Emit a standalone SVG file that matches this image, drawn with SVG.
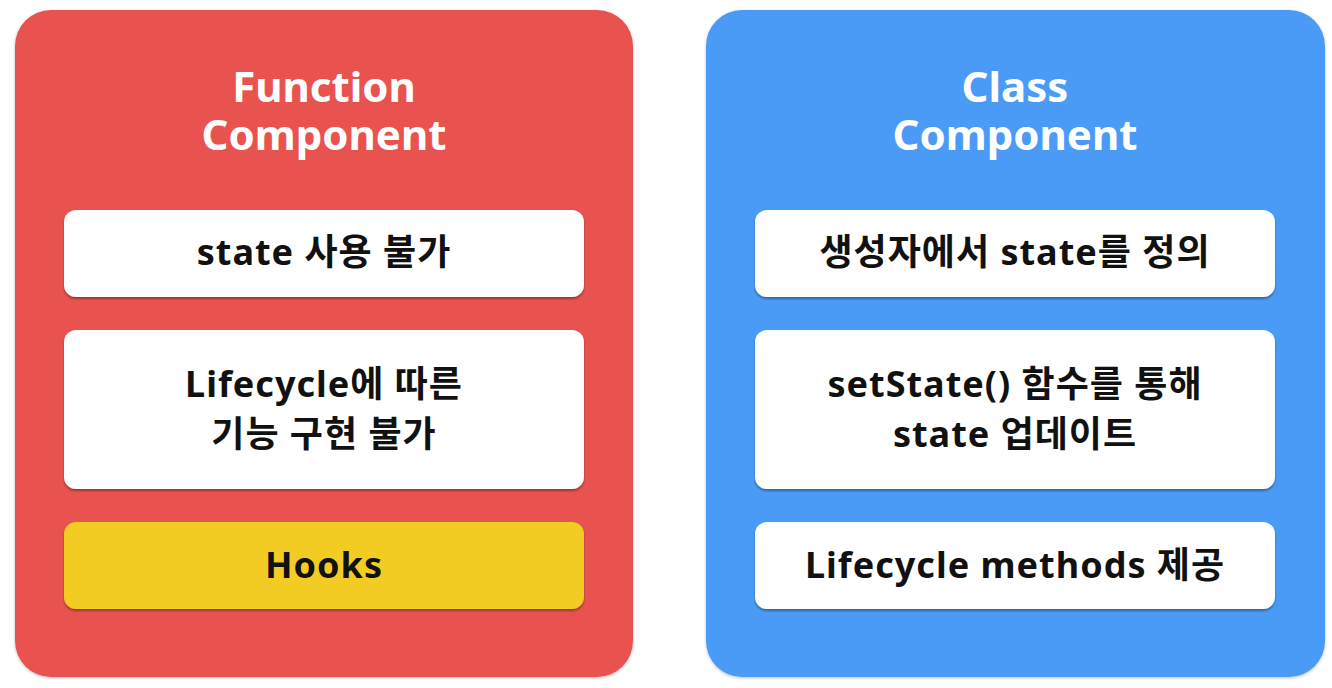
<svg xmlns="http://www.w3.org/2000/svg" width="1332" height="688" viewBox="0 0 1332 688">
<defs>
<filter id="sh" x="-10%" y="-10%" width="120%" height="130%">
<feDropShadow dx="0" dy="2" stdDeviation="1.2" flood-color="#000" flood-opacity="0.35"/>
</filter>
<filter id="psh" x="-5%" y="-5%" width="110%" height="110%">
<feDropShadow dx="0" dy="1" stdDeviation="1.5" flood-color="#000" flood-opacity="0.25"/>
</filter>
</defs>
<style>
.title{font-family:"Noto Sans","Noto Sans CJK KR",sans-serif;font-weight:700;font-size:42px;fill:#fff;text-anchor:middle}
.t{font-family:"Noto Sans","Noto Sans CJK KR",sans-serif;font-weight:700;font-size:36px;letter-spacing:1px;fill:#111;text-anchor:middle}
.box{fill:#fff;filter:url(#sh)}
.hook{fill:#F2CC22;filter:url(#sh)}
</style>
<rect width="1332" height="688" fill="#fff"/>
<g id="function-panel">
<rect x="15" y="10" width="618" height="667" rx="36" fill="#E8524F" filter="url(#psh)"/>
<text class="title"><tspan x="324" y="102">Function</tspan><tspan x="324" y="150">Component</tspan></text>
</g>
<g id="fn-state">
<rect class="box" x="64" y="210" width="520" height="87" rx="12"/>
<text class="t" x="324" y="265">state 사용 불가</text>
</g>
<g id="fn-lifecycle">
<rect class="box" x="64" y="330" width="520" height="159" rx="12"/>
<text class="t"><tspan x="324" y="397">Lifecycle에 따른</tspan><tspan x="324" y="447">기능 구현 불가</tspan></text>
</g>
<g id="fn-hooks">
<rect class="hook" x="64" y="522" width="520" height="87" rx="12"/>
<text class="t" x="324" y="578">Hooks</text>
</g>
<g id="class-panel">
<rect x="706" y="10" width="619" height="667" rx="36" fill="#4A9BF5" filter="url(#psh)"/>
<text class="title"><tspan x="1015" y="102">Class</tspan><tspan x="1015" y="150">Component</tspan></text>
</g>
<g id="cls-state">
<rect class="box" x="755" y="210" width="520" height="87" rx="12"/>
<text class="t" x="1015" y="265">생성자에서 state를 정의</text>
</g>
<g id="cls-setstate">
<rect class="box" x="755" y="330" width="520" height="159" rx="12"/>
<text class="t"><tspan x="1015" y="397">setState() 함수를 통해</tspan><tspan x="1015" y="447">state 업데이트</tspan></text>
</g>
<g id="cls-lifecycle">
<rect class="box" x="755" y="522" width="520" height="87" rx="12"/>
<text class="t" x="1015" y="578">Lifecycle methods 제공</text>
</g>
<g id="connectors"></g>
</svg>
